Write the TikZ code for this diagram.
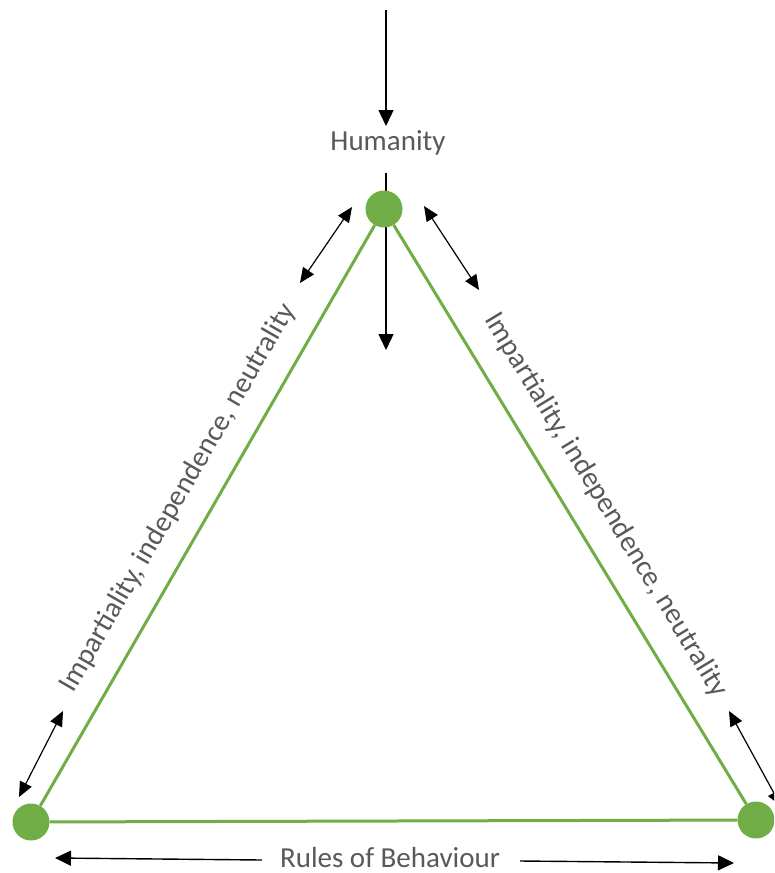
\documentclass[tikz,border=0pt]{standalone}
\usepackage{fontspec}
\setmainfont{Carlito}
\usetikzlibrary{arrows.meta}
\usetikzlibrary{positioning}

\definecolor{leafgreen}{HTML}{70AD47}
\definecolor{labelgray}{HTML}{595959}

\begin{document}
\begin{tikzpicture}[x=1pt,y=-1pt,
    corner/.style={circle,fill=leafgreen,inner sep=0pt,minimum size=37pt},
    side/.style={leafgreen,line width=3pt},
    tag/.style={text=labelgray,font=\fontsize{29}{34}\selectfont,inner sep=0pt},
    push/.style={line width=1.4pt,-{Triangle[length=16pt,width=15pt]}},
    both/.style={line width=1.2pt,{Triangle[length=15pt,width=13pt]}-{Triangle[length=15pt,width=13pt]}}]
        \clip (0,0) rectangle (774,873);

        % arrows into and out of the top corner
        \coordinate (feed) at (386,10);
        \coordinate (feedend) at (386,126);
        \coordinate (stem) at (386,173);
        \coordinate (sink) at (386,350);
        \draw[push] (feed) -- (feedend);
        \draw[push] (stem) -- (sink);

        \node[corner] (hum) at (384,209) {};
        \node[corner] (left) at (31,822) {};
        \node[corner] (right) at (756,820) {};

        \draw[side] (left) -- (hum);
        \draw[side] (hum) -- (right);
        \draw[side] (left) -- (right);

        \node[tag] (humlabel) at (388,143) {Humanity};
        \node[tag,rotate=60] (leftlabel) at (178,498) {Impartiality, independence, neutrality};
        \node[tag,rotate=-58.7] (rightlabel) at (606,505) {Impartiality, independence, neutrality};
        \node[tag] (rules) at (390,858) {Rules of Behaviour};

        % double arrows along the sides
        \coordinate (tla) at (300,283);
        \coordinate (tlb) at (352,207);
        \coordinate (tra) at (424,206);
        \coordinate (trb) at (479,290);
        \coordinate (bla) at (19,797);
        \coordinate (blb) at (63,711);
        \coordinate (bra) at (729,711);
        \coordinate (brb) at (781,806);
        \draw[both] (tla) -- (tlb);
        \draw[both] (tra) -- (trb);
        \draw[both] (bla) -- (blb);
        \draw[both] (bra) -- (brb);

        % along the base
        \coordinate (ra) at (262,860);
        \coordinate (rb) at (55,858);
        \coordinate (rc) at (520,861);
        \coordinate (rd) at (734,863);
        \draw[push] (ra) -- (rb);
        \draw[push] (rc) -- (rd);
    \end{tikzpicture}
\end{document}
